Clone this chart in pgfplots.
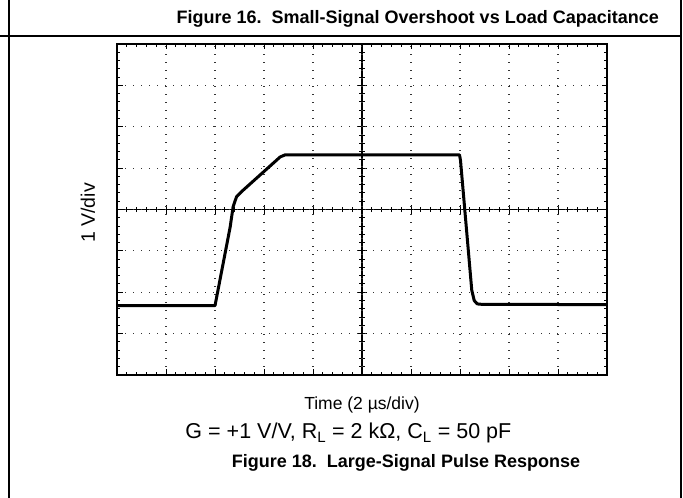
\documentclass[border=0pt]{standalone}
\usepackage{pgfplots}
\pgfplotsset{compat=1.18}
\usepackage{fontspec}
\setmainfont{Liberation Sans}
\begin{document}
\begin{tikzpicture}
\path[use as bounding box] (0,0) rectangle (683bp,498bp);
% page frame lines
\draw[line width=1.1bp] (9bp,0) -- (9bp,498bp);
\draw[line width=1.1bp] (681bp,0) -- (681bp,498bp);
\draw[line width=1.1bp] (0,462bp) -- (681bp,462bp);
% centre cross with ticks
\begin{axis}[at={(117bp,123bp)}, anchor=south west,
  width=490bp, height=331bp, scale only axis,
  xmin=-5, xmax=5, ymin=-4, ymax=4,
  axis x line=middle, axis y line=middle,
  axis line style={-, line width=1.4bp, black},
  xtick={-5,...,5}, ytick={-4,...,4},
  minor x tick num=4, minor y tick num=4,
  xticklabels={}, yticklabels={},
  tick align=center,
  major tick length=9bp, minor tick length=5.5bp,
  tick style={black, line width=1bp}]
\end{axis}
% main axis
\begin{axis}[at={(117bp,123bp)}, anchor=south west,
  width=490bp, height=331bp, scale only axis,
  xmin=0, xmax=10, ymin=0, ymax=8,
  xtick={0,...,10}, ytick={0,...,8},
  minor x tick num=4, minor y tick num=4,
  xticklabels={}, yticklabels={},
  tick align=inside,
  major tick length=5.5bp, minor tick length=3.2bp,
  tick style={black, line width=1bp},
  grid=major,
  major grid style={black!80, line width=1.2bp, dash pattern=on 1.2bp off 6.8bp},
  axis line style={line width=2.8bp, black},
  clip=false]
\addplot[black, line width=3bp, line join=round] coordinates {
(0,1.675) (2.0,1.675) (2.31,3.58) (2.37,4.07) (2.44,4.31) (2.54,4.43)
(3.33,5.27) (3.43,5.32) (6.99,5.32) (7.01,5.19) (7.24,2.05) (7.29,1.80)
(7.35,1.72) (7.41,1.71) (10,1.70)};
\end{axis}
% texts
\node[anchor=base east, inner sep=0pt, font=\fontsize{18bp}{21bp}\selectfont\bfseries] at (659bp,474bp) {Figure 16.\ \ Small-Signal Overshoot vs Load Capacitance};
\node[anchor=base, inner sep=0pt, font=\fontsize{17.5bp}{20bp}\selectfont] at (362bp,88.7bp) {Time (2 µs/div)};
\node[anchor=base, inner sep=0pt, font=\fontsize{21.5bp}{25bp}\selectfont] at (348.4bp,59bp) {G = +1 V/V, R\textsubscript{L} = 2 kΩ, C\textsubscript{L} = 50 pF};
\node[anchor=base, inner sep=0pt, font=\fontsize{18bp}{21bp}\selectfont\bfseries] at (406bp,30.5bp) {Figure 18.\ \ Large-Signal Pulse Response};
\node[rotate=90, inner sep=0pt, font=\fontsize{19.5bp}{23bp}\selectfont] at (88bp,285bp) {1 V/div};
\end{tikzpicture}
\end{document}
